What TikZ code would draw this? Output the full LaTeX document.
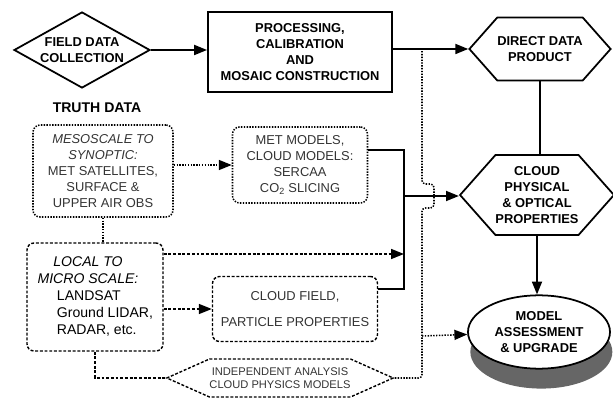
\documentclass[tikz,border=0pt]{standalone}
\usepackage{fontspec}
\setmainfont{Liberation Sans}
\usetikzlibrary{arrows.meta, positioning, shapes.geometric, shapes.symbols, shadows}

\begin{document}
\begin{tikzpicture}[
    x=0.03cm, y=-0.03cm,
    >={Triangle[length=11pt, width=8.5pt]},
    txt/.style={font=\fontsize{11}{13.6}\selectfont\bfseries, align=center},
    faint/.style={font=\fontsize{11}{13.6}\selectfont, text=black!80, align=center},
    heavy/.style={draw, line width=1.6pt},
    hexa/.style={signal, signal to=east and west, draw, line width=1.5pt, inner sep=0pt},
    dotbox/.style={draw, rounded corners=6pt, line width=1.3pt, dash pattern=on 1.2pt off 1.2pt},
    dashbox/.style={draw, rounded corners=6pt, line width=1.2pt, dash pattern=on 2.5pt off 1.5pt},
    link/.style={line width=1.6pt},
    dotlink/.style={line width=1.3pt, dash pattern=on 1.2pt off 1.2pt},
    dashlink/.style={line width=1.2pt, dash pattern=on 2.5pt off 1.5pt},
]
\useasboundingbox (0,0) rectangle (613,401);

% Main processing chain
\node[diamond, draw, line width=1.5pt, minimum width=4.08cm, minimum height=2.28cm, inner sep=0pt,
      label={[txt]center:FIELD DATA\\COLLECTION}] (collect) at (82,50) {};
\node[heavy, txt, minimum width=5.52cm, minimum height=2.4cm] (proc) at (300,52)
    {PROCESSING,\\CALIBRATION\\AND\\MOSAIC CONSTRUCTION};
\node[hexa, txt, signal pointer angle=97, minimum width=4.23cm, minimum height=1.89cm] (direct) at (540,49)
    {DIRECT DATA\\PRODUCT};
\node[hexa, txt, signal pointer angle=97, minimum width=4.47cm, minimum height=2.4cm] (cloud) at (537,195)
    {CLOUD\\PHYSICAL\\\& OPTICAL\\PROPERTIES};
\node[ellipse, draw, line width=1.5pt, fill=white, minimum width=4.26cm, minimum height=2.2cm, txt,
      drop shadow={shadow xshift=2pt, shadow yshift=-17pt, fill=black!60, opacity=1}] (model) at (539,332)
    {MODEL\\ASSESSMENT\\\& UPGRADE};

% Truth data boxes
\node[txt, font=\fontsize{12}{14}\selectfont\bfseries] (truth) at (97,108) {TRUTH DATA};
\node[dotbox, faint, minimum width=4.2cm, minimum height=2.76cm] (meso) at (103,171)
    {{\itshape MESOSCALE TO}\\{\itshape SYNOPTIC:}\\MET SATELLITES,\\SURFACE \&\\UPPER AIR OBS};
\node[dotbox, faint, minimum width=4.05cm, minimum height=2.28cm] (met) at (300,165)
    {MET MODELS,\\CLOUD MODELS:\\SERCAA\\CO\textsubscript{2} SLICING};
\node[dashbox, faint, font=\fontsize{12}{14.4}\selectfont, text=black, minimum width=4.08cm, minimum height=3.24cm] (local) at (95,297)
    {\begin{tabular}{@{\hspace{0.6cm}}l@{}}
     \multicolumn{1}{@{}c@{\hspace{0.42cm}}}{\itshape LOCAL TO}\\
     \multicolumn{1}{@{}c@{\hspace{0.42cm}}}{\itshape MICRO SCALE:}\\
     LANDSAT\\ Ground LIDAR,\\ RADAR, etc.
     \end{tabular}};
\node[dashbox, faint, minimum width=4.95cm, minimum height=1.95cm] (cfield) at (295,309)
    {CLOUD FIELD,\\[9pt]PARTICLE PROPERTIES};
\node[hexa, faint, font=\fontsize{9.5}{11}\selectfont, line width=1.2pt, dash pattern=on 2.5pt off 1.5pt,
      signal pointer angle=48, minimum width=6cm, minimum height=1.14cm] (indep) at (280,378)
    {INDEPENDENT ANALYSIS\\CLOUD PHYSICS MODELS};

% Junction points
\coordinate (tap) at (422,49);
\coordinate (join) at (404,196);
\coordinate (fork) at (422,336);
\coordinate (hopb) at (422,208);
\coordinate (hopt) at (422,184);

% Solid connectors
\draw[link, ->] (collect.east) -- (collect.east -| proc.west);
\draw[link, ->] (proc.east |- direct.west) -- (direct.west);
\draw[link] (direct.south) -- (direct.south |- cloud.north);
\draw[link, ->] (cloud.south) -- (cloud.south |- model.north);
\draw[link] ([yshift=0.45cm]met.east) -| (join);
\draw[link] ([yshift=0.6cm]cfield.east) -| (join);
\draw[link, ->] (join) -- (join -| cloud.west);

% Dotted and dashed connectors
\draw[dotlink, ->] (meso.east |- met.west) -- (met.west);
\draw[dotlink] (meso.south) -- (meso.south |- local.north);
\draw[dashlink, ->] ([yshift=1.29cm]local.east) -- ([yshift=1.29cm]local.east -| join);
\draw[dashlink, ->] (local.east |- cfield.west) -- (cfield.west);
\draw[dashlink] (local.south) |- (indep.west);
\draw[dotlink, rounded corners=3pt] (indep.east) -| (hopb) -- ++(12,0) -- ++(0,-24) -- (hopt) -- (tap);
\draw[dotlink, ->] (fork) -- (model);

\end{tikzpicture}
\end{document}
